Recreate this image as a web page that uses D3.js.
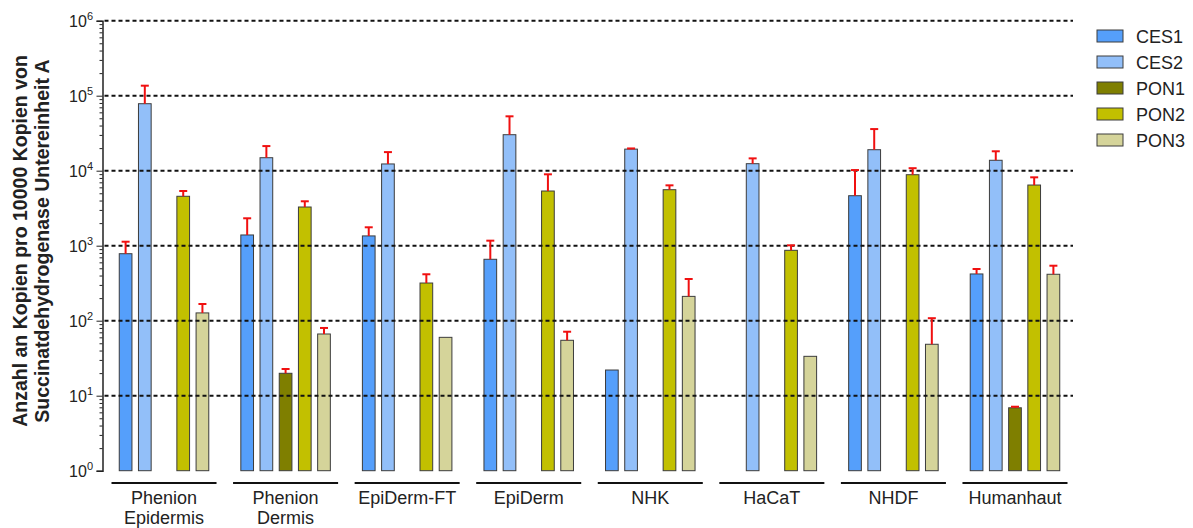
<!DOCTYPE html>
<html>
<head>
<meta charset="utf-8">
<script src="https://cdn.jsdelivr.net/npm/d3@7"></script>
<style>
  html, body { margin: 0; padding: 0; background: #fff; }
  svg { display: block; font-family: Arial, "Liberation Sans", sans-serif; }
</style>
</head>
<body>
<svg id="chart" width="1193" height="528"></svg>
<script>
// Cell types (x groups) and measured genes (series)
const categories = ["Phenion Epidermis", "Phenion Dermis", "EpiDerm-FT", "EpiDerm", "NHK", "HaCaT", "NHDF", "Humanhaut"];
const series = ["CES1", "CES2", "PON1", "PON2", "PON3"];

// Mean copies per 10000 copies SDHA (null = not detected)
const ces1 = [782, 1390, 1350, 659, 22, null, 4640, 420];
const ces2 = [78200, 14900, 12300, 30200, 19400, 12400, 19050, 13770];
const pon1 = [null, 19.9, null, null, null, null, null, 6.9];
const pon2 = [4560, 3280, 318, 5360, 5580, 868, 8840, 6440];
const pon3 = [127, 66.5, 60, 54.8, 211, 33.5, 48.5, 416];

// Standard deviations (upper error bars; null = no error bar)
const ces1Sd = [348, 930, 410, 508, null, null, 5560, 69];
const ces2Sd = [57800, 6400, 5400, 22900, 400, 2200, 16850, 4380];
const pon1Sd = [null, 2.8, null, null, null, null, null, 0.23];
const pon2Sd = [800, 630, 98, 3590, 800, 144, 1960, 1720];
const pon3Sd = [40, 13.5, null, 16.5, 149, null, 59.5, 125];

// Y axis decades
const majorTicks = [1, 10, 100, 1000, 10000, 100000, 1000000];
const tickExponents = ["0", "1", "2", "3", "4", "5", "6"];

const means = [ces1, ces2, pon1, pon2, pon3];
const sds = [ces1Sd, ces2Sd, pon1Sd, pon2Sd, pon3Sd];
const colors = ["#559ffb", "#92bff9", "#7f7f00", "#c2c000", "#d5d49a"];

const svg = d3.select("#chart");

const y = d3.scaleLog().domain([1, 1e6]).range([470.7, 20.7]);
const x0 = d3.scaleBand().domain(categories).range([111.5, 1067.5]).paddingInner(0.136).paddingOuter(0);
const x1 = d3.scaleBand().domain(series).range([0, x0.bandwidth()]).paddingInner(0.339).paddingOuter(0.404);

const axisX = 102.5;
const gridEnd = 1073;

// Flatten the records
const records = [];
categories.forEach((c, i) => {
  series.forEach((s, j) => {
    const v = means[j][i];
    if (v != null) records.push({ cat: c, ser: s, value: v, sd: sds[j][i], color: colors[j] });
  });
});

// Bars
svg.append("g").selectAll("rect")
  .data(records)
  .join("rect")
  .attr("x", d => x0(d.cat) + x1(d.ser))
  .attr("y", d => y(d.value))
  .attr("width", x1.bandwidth())
  .attr("height", d => y(1) - y(d.value))
  .attr("fill", d => d.color)
  .attr("stroke", "#3c3c3c")
  .attr("stroke-width", 1);

// Dotted reference lines at each decade
svg.append("g").selectAll("line")
  .data(majorTicks.slice(1))
  .join("line")
  .attr("x1", axisX + 2)
  .attr("x2", gridEnd)
  .attr("y1", d => y(d))
  .attr("y2", d => y(d))
  .attr("stroke", "#111")
  .attr("stroke-width", 2)
  .attr("stroke-dasharray", "4,3");

// Upper error bars
const err = svg.append("g").attr("stroke", "#f01010").attr("stroke-width", 2);
records.filter(d => d.sd != null).forEach(d => {
  const cx = x0(d.cat) + x1(d.ser) + x1.bandwidth() / 2;
  const yTop = y(d.value + d.sd);
  err.append("line").attr("x1", cx).attr("x2", cx).attr("y1", y(d.value)).attr("y2", yTop);
  err.append("line").attr("x1", cx - 4).attr("x2", cx + 4).attr("y1", yTop).attr("y2", yTop);
});

// Y axis with log minor ticks
const minorTicks = [];
for (let e = 0; e < 6; e++) for (let m = 2; m <= 9; m++) minorTicks.push(m * Math.pow(10, e));

const yAxisG = svg.append("g").attr("transform", `translate(${axisX},0)`);
yAxisG.call(d3.axisLeft(y).tickValues(majorTicks).tickSize(6).tickFormat(""));
yAxisG.append("g").call(d3.axisLeft(y).tickValues(minorTicks).tickSize(3).tickFormat(""));
yAxisG.selectAll(".domain").attr("stroke", "#222").attr("stroke-width", 1.5);
yAxisG.selectAll(".tick line").attr("stroke", "#222").attr("stroke-width", 1);
yAxisG.selectAll("g > g > .domain").remove();

// Decade labels 10^n
const lab = svg.append("g").attr("fill", "#222").attr("font-size", 16);
majorTicks.forEach((t, i) => {
  const txt = lab.append("text")
    .attr("x", 93)
    .attr("y", y(t) + 6)
    .attr("text-anchor", "end");
  txt.append("tspan").text("10");
  txt.append("tspan").attr("font-size", 11).attr("dy", -7).text(tickExponents[i]);
});

// Y axis title
const title = svg.append("text")
  .attr("transform", "translate(0,241) rotate(-90)")
  .attr("text-anchor", "middle")
  .attr("font-weight", "bold")
  .attr("font-size", 19.5)
  .attr("fill", "#222");
title.append("tspan").attr("x", 0).attr("y", 27).text("Anzahl an Kopien pro 10000 Kopien von");
title.append("tspan").attr("x", 0).attr("y", 48.5).text("Succinatdehydrogenase Untereinheit A");

// Group underlines and labels
const grp = svg.append("g");
categories.forEach(c => {
  const bx = x0(c);
  grp.append("line")
    .attr("x1", bx).attr("x2", bx + x0.bandwidth())
    .attr("y1", 483).attr("y2", 483)
    .attr("stroke", "#111").attr("stroke-width", 2);
  const words = c.split(" ");
  words.forEach((w, k) => {
    grp.append("text")
      .attr("x", bx + x0.bandwidth() / 2)
      .attr("y", 503.5 + k * 20)
      .attr("text-anchor", "middle")
      .attr("font-size", 18)
      .attr("fill", "#222")
      .text(w);
  });
});

// Legend
const leg = svg.append("g");
series.forEach((s, j) => {
  const yy = 30 + j * 26;
  leg.append("rect")
    .attr("x", 1097).attr("y", yy)
    .attr("width", 26).attr("height", 12)
    .attr("fill", colors[j]).attr("stroke", "#3c3c3c").attr("stroke-width", 1);
  leg.append("text")
    .attr("x", 1136).attr("y", yy + 12.5)
    .attr("font-size", 18).attr("fill", "#222")
    .text(s);
});
</script>
</body>
</html>
